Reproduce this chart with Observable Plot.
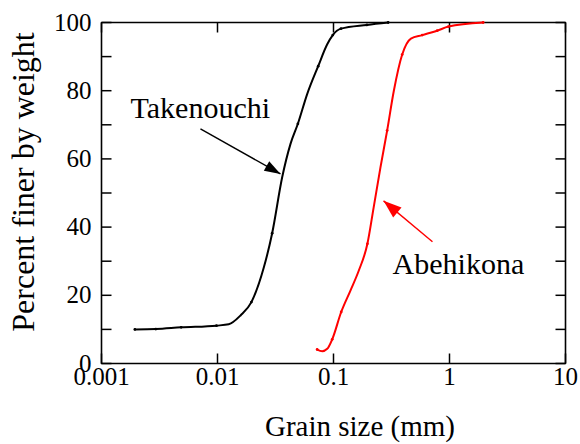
<!DOCTYPE html>
<html><head><meta charset="utf-8">
<script src="https://cdn.jsdelivr.net/npm/d3@7"></script>
<script src="https://cdn.jsdelivr.net/npm/@observablehq/plot@0.6"></script>
<style>
html,body{margin:0;padding:0;background:#fff}
#wrap{width:580px}
#caption{position:relative;width:580px;height:44px;font-family:"Liberation Serif",serif;font-size:29px;line-height:1;color:#000}
#caption span{position:absolute;left:360px;top:12px;transform:translateX(-50%);white-space:nowrap}
svg text{font-family:"Liberation Serif",serif}
</style>
</head><body><div id="wrap"><div id="chart"></div><div id="caption"><span id="xtitle"></span></div></div>
<script>
// Takenouchi: traced curve (grain size mm, percent finer)
const takenouchiSize = [0.00194, 0.00294, 0.00486, 0.0098, 0.0125, 0.0158, 0.0196, 0.0251, 0.0296, 0.0361, 0.0426, 0.0493, 0.0593, 0.0738, 0.0883, 0.0986, 0.116, 0.194, 0.296];
const takenouchiPct  = [10.0, 10.1, 10.6, 11.1, 11.5, 14.1, 18.0, 28.2, 38.2, 54.6, 64.4, 70.3, 79.0, 87.2, 93.6, 96.3, 98.2, 99.3, 100];
// Takenouchi: measured markers
const takenouchiMarkSize = [0.00194, 0.00294, 0.00486, 0.0098, 0.0196, 0.0296, 0.0493, 0.0738, 0.0986, 0.116, 0.194, 0.296];
const takenouchiMarkPct  = [10.0, 10.1, 10.6, 11.1, 18.0, 38.2, 70.3, 87.2, 96.3, 98.2, 99.3, 100];

// Abehikona: traced curve
const abehikonaSize = [0.0723, 0.080, 0.0883, 0.0975, 0.1165, 0.140, 0.165, 0.196, 0.222, 0.254, 0.290, 0.331, 0.391, 0.465, 0.582, 0.783, 0.98, 1.95];
const abehikonaPct  = [4.1, 3.6, 4.3, 7.1, 15.1, 21.4, 27.2, 35.1, 45.8, 57.5, 68.3, 79.9, 90.6, 95.3, 96.3, 97.6, 98.8, 100];
// Abehikona: measured markers
const abehikonaMarkSize = [0.0723, 0.0975, 0.1165, 0.196, 0.290, 0.391, 0.582, 0.783, 0.98, 1.95];
const abehikonaMarkPct  = [4.1, 7.1, 15.1, 35.1, 68.3, 90.6, 96.3, 97.6, 98.8, 100];

// Axes
const xDomain = [0.001, 10];
const yDomain = [0, 100];
const xTicks = [0.001, 0.01, 0.1, 1, 10];
const yTicks = [0, 20, 40, 60, 80, 100];
const yMinorTicks = [0, 10, 20, 30, 40, 50, 60, 70, 80, 90, 100];
const xTitle = "Grain size (mm)";
const yTitle = "Percent finer by weight";

// Annotation labels and arrows (data units)
const seriesNames = ["Takenouchi", "Abehikona"];
const labelSize = [0.00178, 0.323];
const labelPct = [72.0, 26.1];
const arrowTailSize = [0.00713, 0.713];
const arrowTailPct = [68.8, 35.7];
const arrowTipSize = [0.0349, 0.270];
const arrowTipPct = [55.6, 47.7];
const arrowAngle = [119.4, -50.1];

const FONT = "Liberation Serif, serif";
const tak = takenouchiSize.map((s, i) => ({s, p: takenouchiPct[i]}));
const takM = takenouchiMarkSize.map((s, i) => ({s, p: takenouchiMarkPct[i]}));
const abe = abehikonaSize.map((s, i) => ({s, p: abehikonaPct[i]}));
const abeM = abehikonaMarkSize.map((s, i) => ({s, p: abehikonaMarkPct[i]}));
const ann = seriesNames.map((n, i) => ({
  n, lx: labelSize[i], ly: labelPct[i],
  x1: arrowTailSize[i], y1: arrowTailPct[i], x2: arrowTipSize[i], y2: arrowTipPct[i], a: arrowAngle[i]
}));
const annT = ann.slice(0, 1), annA = ann.slice(1, 2);
const frameCorners = [
  {s: xDomain[0], p: yDomain[0]}, {s: xDomain[1], p: yDomain[0]},
  {s: xDomain[1], p: yDomain[1]}, {s: xDomain[0], p: yDomain[1]}, {s: xDomain[0], p: yDomain[0]}
];
const tickShape = {draw(context, l) { context.moveTo(0, 0); context.lineTo(0, -l); }};
const tickOpts = {shape: tickShape, anchor: "start", length: 10, stroke: "#000", strokeWidth: 1.5, strokeLinecap: "butt"};

const chart = Plot.plot({
  width: 580, height: 400,
  marginLeft: 101, marginRight: 15, marginTop: 22, marginBottom: 37,
  style: {fontFamily: FONT, fontSize: "25px", background: "#fff", color: "#000"},
  x: {type: "log", domain: xDomain, axis: null},
  y: {domain: yDomain, axis: null},
  marks: [
    Plot.vector(xTicks, {...tickOpts, x: d => d, y: () => yDomain[0], rotate: 0}),
    Plot.vector(xTicks, {...tickOpts, x: d => d, y: () => yDomain[1], rotate: 180}),
    Plot.vector(yMinorTicks, {...tickOpts, y: d => d, x: () => xDomain[0], rotate: 90}),
    Plot.vector(yMinorTicks, {...tickOpts, y: d => d, x: () => xDomain[1], rotate: -90}),
    Plot.line(frameCorners, {x: "s", y: "p", stroke: "#000", strokeWidth: 1.6, strokeLinejoin: "miter"}),
    Plot.text(xTicks, {x: d => d, text: d => String(d), frameAnchor: "bottom", dy: 4, lineAnchor: "top", textAnchor: "middle", fontFamily: FONT, fontSize: 25, fill: "#000"}),
    Plot.text(yTicks, {y: d => d, text: d => String(d), frameAnchor: "left", dx: -10, lineAnchor: "middle", textAnchor: "end", fontFamily: FONT, fontSize: 25, fill: "#000"}),
    Plot.text([yTitle], {text: d => d, frameAnchor: "left", rotate: -90, dx: -68, dy: -11, lineAnchor: "bottom", textAnchor: "middle", fontFamily: FONT, fontSize: 32, fill: "#000"}),
    Plot.line(tak, {x: "s", y: "p", curve: "monotone-x", stroke: "#000", strokeWidth: 2}),
    Plot.dot(takM, {x: "s", y: "p", r: 1.4, fill: "#000"}),
    Plot.line(abe, {x: "s", y: "p", curve: "monotone-x", stroke: "#ff0000", strokeWidth: 2}),
    Plot.dot(abeM, {x: "s", y: "p", r: 1.4, fill: "#ff0000"}),
    Plot.text(ann, {x: "lx", y: "ly", text: "n", textAnchor: "start", lineAnchor: "bottom", fontFamily: FONT, fontSize: 30, fill: "#000"}),
    Plot.link(annT, {x1: "x1", y1: "y1", x2: "x2", y2: "y2", stroke: "#000", strokeWidth: 1.4}),
    Plot.vector(annT, {x: "x2", y: "y2", rotate: "a", shape: "spike", anchor: "end", length: 16, r: 5.5, fill: "#000", stroke: "none"}),
    Plot.link(annA, {x1: "x1", y1: "y1", x2: "x2", y2: "y2", stroke: "#ff0000", strokeWidth: 1.4}),
    Plot.vector(annA, {x: "x2", y: "y2", rotate: "a", shape: "spike", anchor: "end", length: 18, r: 6.5, fill: "#ff0000", stroke: "none"})
  ]
});
chart.setAttribute("font-family", FONT);
document.getElementById("chart").appendChild(chart);
document.getElementById("xtitle").textContent = xTitle;
</script>
</body></html>
